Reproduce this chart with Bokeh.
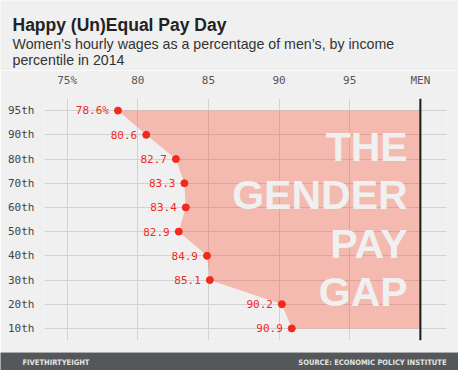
from bokeh.plotting import figure
from bokeh.layouts import column
from bokeh.models import FixedTicker, Span
from bokeh.core.properties import value
from bokeh.embed import file_html
from bokeh.resources import INLINE

# ---- data ----
percentiles = ["95th", "90th", "80th", "70th", "60th", "50th", "40th", "30th", "20th", "10th"]
wages = [78.6, 80.6, 82.7, 83.3, 83.4, 82.9, 84.9, 85.1, 90.2, 90.9]
x_ticks = [75, 80, 85, 90, 95, 100]
x_tick_labels = ["75%", "80", "85", "90", "95", "MEN"]
title_text = "Happy (Un)Equal Pay Day"
subtitle_lines = ["Women\u2019s hourly wages as a percentage of men\u2019s, by income",
                  "percentile in 2014"]
gap_words = ["THE", "GENDER", "PAY", "GAP"]
footer_left = "FIVETHIRTYEIGHT"
footer_right = "SOURCE: ECONOMIC POLICY INSTITUTE"
men_level = 100

BG = "#f0f0f0"
RED = "#f2291b"
MONO = value("DejaVu Sans Mono")
SANS = value("Liberation Sans")
COND = value("DejaVu Sans Condensed")

W = 458
HEAD_H = 70
MAIN_H = 282
FOOT_H = 18

# ---- header ----
head = figure(width=W, height=HEAD_H, x_range=(0, W), y_range=(HEAD_H, 0),
              output_backend="svg", toolbar_location=None,
              min_border=0, background_fill_color=BG, border_fill_color=BG,
              outline_line_color=None)
head.axis.visible = False
head.grid.visible = False
head.text(x=[12], y=[24], text=[title_text], text_font=SANS, text_font_style="bold",
          text_font_size="17.5px", text_color="#222222", text_baseline="alphabetic")
head.text(x=[12, 12], y=[43.8, 59.3], text=subtitle_lines, text_font=SANS,
          text_font_size="14.2px", text_color="#333333", text_baseline="alphabetic")

# ---- main chart ----
n = len(percentiles)
ypos = [n - 1 - i for i in range(n)]

p = figure(width=W, height=MAIN_H, x_range=(73.4, 101.85), y_range=(-0.5, n - 0.5),
           x_axis_location="above", output_backend="svg", toolbar_location=None,
           min_border_left=44, min_border_right=12, min_border_top=21, min_border_bottom=12,
           background_fill_color=BG, border_fill_color=BG, outline_line_color=None)

p.xaxis.ticker = FixedTicker(ticks=x_ticks)
p.xaxis.major_label_overrides = {t: l for t, l in zip(x_ticks, x_tick_labels)}
p.yaxis.ticker = FixedTicker(ticks=ypos)
p.yaxis.major_label_overrides = {y: l for y, l in zip(ypos, percentiles)}
for ax in (p.xaxis, p.yaxis):
    ax.axis_line_color = None
    ax.major_tick_line_color = None
    ax.minor_tick_line_color = None
    ax.major_label_text_font = "DejaVu Sans Mono"
    ax.major_label_text_font_size = "11px"
p.xaxis.major_label_text_color = "#555555"
p.yaxis.major_label_text_color = "#444444"
p.xaxis.major_label_standoff = 6
p.yaxis.major_label_standoff = 4

p.xgrid.ticker = FixedTicker(ticks=[t for t in x_ticks if t != men_level])
p.ygrid.ticker = FixedTicker(ticks=ypos)
p.grid.grid_line_color = "#d2d2d2"
p.grid.grid_line_width = 1

# gap area
p.patch(x=wages + [men_level, men_level], y=ypos + [ypos[-1], ypos[0]],
        fill_color="#ff2700", fill_alpha=0.27, line_color=None)

p.add_layout(Span(location=men_level, dimension="height", line_color="#1a1a1a", line_width=2))

# big text
p.text(x=[99.1] * 4, y=[7.5, 5.5, 3.5, 1.5], text=gap_words, text_font=SANS,
       text_font_style="bold", text_font_size="41px", text_color=BG,
       text_align="right", text_baseline="middle")

p.scatter(x=wages, y=ypos, size=7, fill_color=RED, line_color=RED)
labels = [f"{v}%" if i == 0 else f"{v}" for i, v in enumerate(wages)]
p.text(x=wages, y=ypos, text=labels, text_font=MONO, text_font_size="11px",
       text_color=RED, text_align="right", text_baseline="middle", x_offset=-9)

# ---- footer ----
foot = figure(width=W, height=FOOT_H, x_range=(0, W), y_range=(FOOT_H, 0),
              output_backend="svg", toolbar_location=None,
              min_border=0, background_fill_color="#55585a", border_fill_color="#55585a",
              outline_line_color=None)
foot.axis.visible = False
foot.grid.visible = False
foot.text(x=[22], y=[9.5], text=[footer_left], text_font=COND,
          text_font_style="bold", text_font_size="7.5px", text_color="#e4e4e4",
          text_baseline="middle", text_align="left")
foot.text(x=[446], y=[9.5], text=[footer_right], text_font=COND,
          text_font_style="bold", text_font_size="7.5px", text_color="#e4e4e4",
          text_baseline="middle", text_align="right")

for fig in (head, p, foot):
    fig.frame_align = False

layout = column(head, p, foot, spacing=0)
open("out.html", "w").write(file_html(layout, INLINE))
